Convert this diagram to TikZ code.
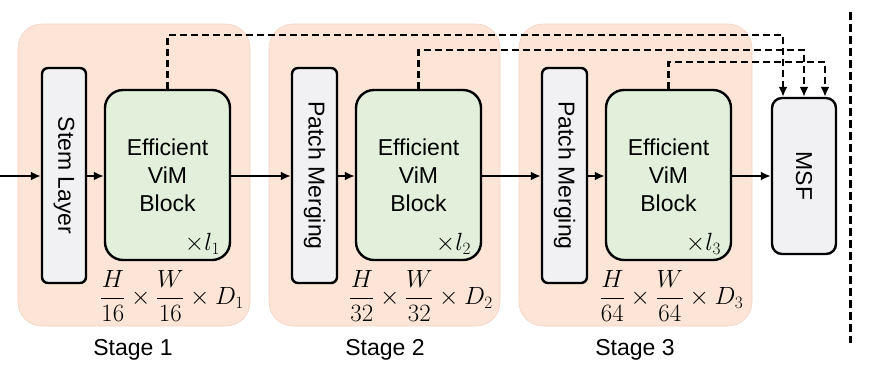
\documentclass[tikz,border=0pt]{standalone}
\usepackage{fontspec}
\setmainfont{Liberation Sans}
\usetikzlibrary{arrows.meta,calc}
\definecolor{peach}{HTML}{FCE4D6}
\definecolor{peachline}{HTML}{F3D3C2}
\definecolor{vimgreen}{HTML}{E2EFDA}
\definecolor{boxgray}{HTML}{F1F1F3}
\begin{document}
\begin{tikzpicture}[x=1pt,y=-1pt,
  stagebg/.style={fill=peach,draw=peachline,line width=0.6pt,rounded corners=24pt,minimum width=232pt,minimum height=302pt,inner sep=0pt},
  thinbox/.style={fill=boxgray,draw=black,line width=2.4pt,rounded corners=6pt,minimum width=44pt,minimum height=215pt,inner sep=0pt},
  vimbox/.style={fill=vimgreen,draw=black,line width=2.4pt,rounded corners=18pt,minimum width=125pt,minimum height=170pt,inner sep=0pt,align=center,font=\fontsize{23}{28}\selectfont},
  msfbox/.style={fill=boxgray,draw=black,line width=2.4pt,rounded corners=10pt,minimum width=64pt,minimum height=156pt,inner sep=0pt},
  vtext/.style={rotate=-90,font=\fontsize{23}{28}\selectfont},
  label/.style={font=\fontsize{23}{28}\selectfont},
  mathlbl/.style={font=\fontsize{23}{27}\selectfont},
  flow/.style={line width=2.2pt,-{Latex[length=10pt,width=9pt]}},
  skip/.style={line width=2.2pt,dash pattern=on 7pt off 4pt,-{Latex[length=10pt,width=9pt]}},
  sep/.style={line width=3pt,dash pattern=on 8pt off 4pt}
]
\useasboundingbox (0,0) rectangle (882,376);
% stage backgrounds
\node[stagebg] (s1) at (134,175) {};
\node[stagebg,minimum width=231pt] (s2) at (384.5,175) {};
\node[stagebg,minimum width=233pt] (s3) at (635.5,175) {};
% boxes
\node[thinbox] (stem) at (64,175.5) {};
\node[vtext] at (stem.center) {Stem Layer};
\node[thinbox,minimum width=45pt] (pm2) at (314.5,175.5) {};
\node[vtext] at (pm2.center) {Patch Merging};
\node[thinbox,minimum width=45pt] (pm3) at (564.5,175.5) {};
\node[vtext] at (pm3.center) {Patch Merging};
\node[vimbox] (b1) at (167.5,175) {Efficient\\ViM\\Block};
\node[vimbox] (b2) at (418.5,175) {Efficient\\ViM\\Block};
\node[vimbox] (b3) at (668.5,175) {Efficient\\ViM\\Block};
\node[msfbox] (msf) at (804,176) {};
\node[vtext] at (msf.center) {MSF};
% repeat counts
\node[mathlbl,anchor=south east,inner sep=0pt] (r1) at ($(b1.south east)+(-11,-7)$) {$\times l_1$};
\node[mathlbl,anchor=south east,inner sep=0pt] (r2) at ($(b2.south east)+(-11,-7)$) {$\times l_2$};
\node[mathlbl,anchor=south east,inner sep=0pt] (r3) at ($(b3.south east)+(-11,-7)$) {$\times l_3$};
% sizes
\node[mathlbl] (d1) at (172,296) {$\displaystyle\frac{H}{16}\times\frac{W}{16}\times D_1$};
\node[mathlbl] (d2) at (421,296) {$\displaystyle\frac{H}{32}\times\frac{W}{32}\times D_2$};
\node[mathlbl] (d3) at (671.5,296) {$\displaystyle\frac{H}{64}\times\frac{W}{64}\times D_3$};
% stage labels
\node[label] (l1) at (133,350) {Stage 1};
\node[label] (l2) at (385,350) {Stage 2};
\node[label] (l3) at (635,350) {Stage 3};
% flow
\coordinate (in) at (0,176);
\draw[flow] (in) -- (stem.west |- in);
\draw[flow] (stem.east |- in) -- (b1.west |- in);
\draw[flow] (b1.east |- in) -- (pm2.west |- in);
\draw[flow] (pm2.east |- in) -- (b2.west |- in);
\draw[flow] (b2.east |- in) -- (pm3.west |- in);
\draw[flow] (pm3.east |- in) -- (b3.west |- in);
\draw[flow] (b3.east |- in) -- (msf.west |- in);
% skip connections
\draw[skip] (b1.north) -- (b1.north |- 0,35) -| ([xshift=-21pt]msf.north);
\draw[skip] (b2.north) -- (b2.north |- 0,50) -| (msf.north);
\draw[skip] (b3.north) -- (b3.north |- 0,62) -| ([xshift=21pt]msf.north);
% separator
\coordinate (septop) at (850,12);
\coordinate (sepbot) at (850,343);
\draw[sep] (septop) -- (sepbot);
\end{tikzpicture}
\end{document}
